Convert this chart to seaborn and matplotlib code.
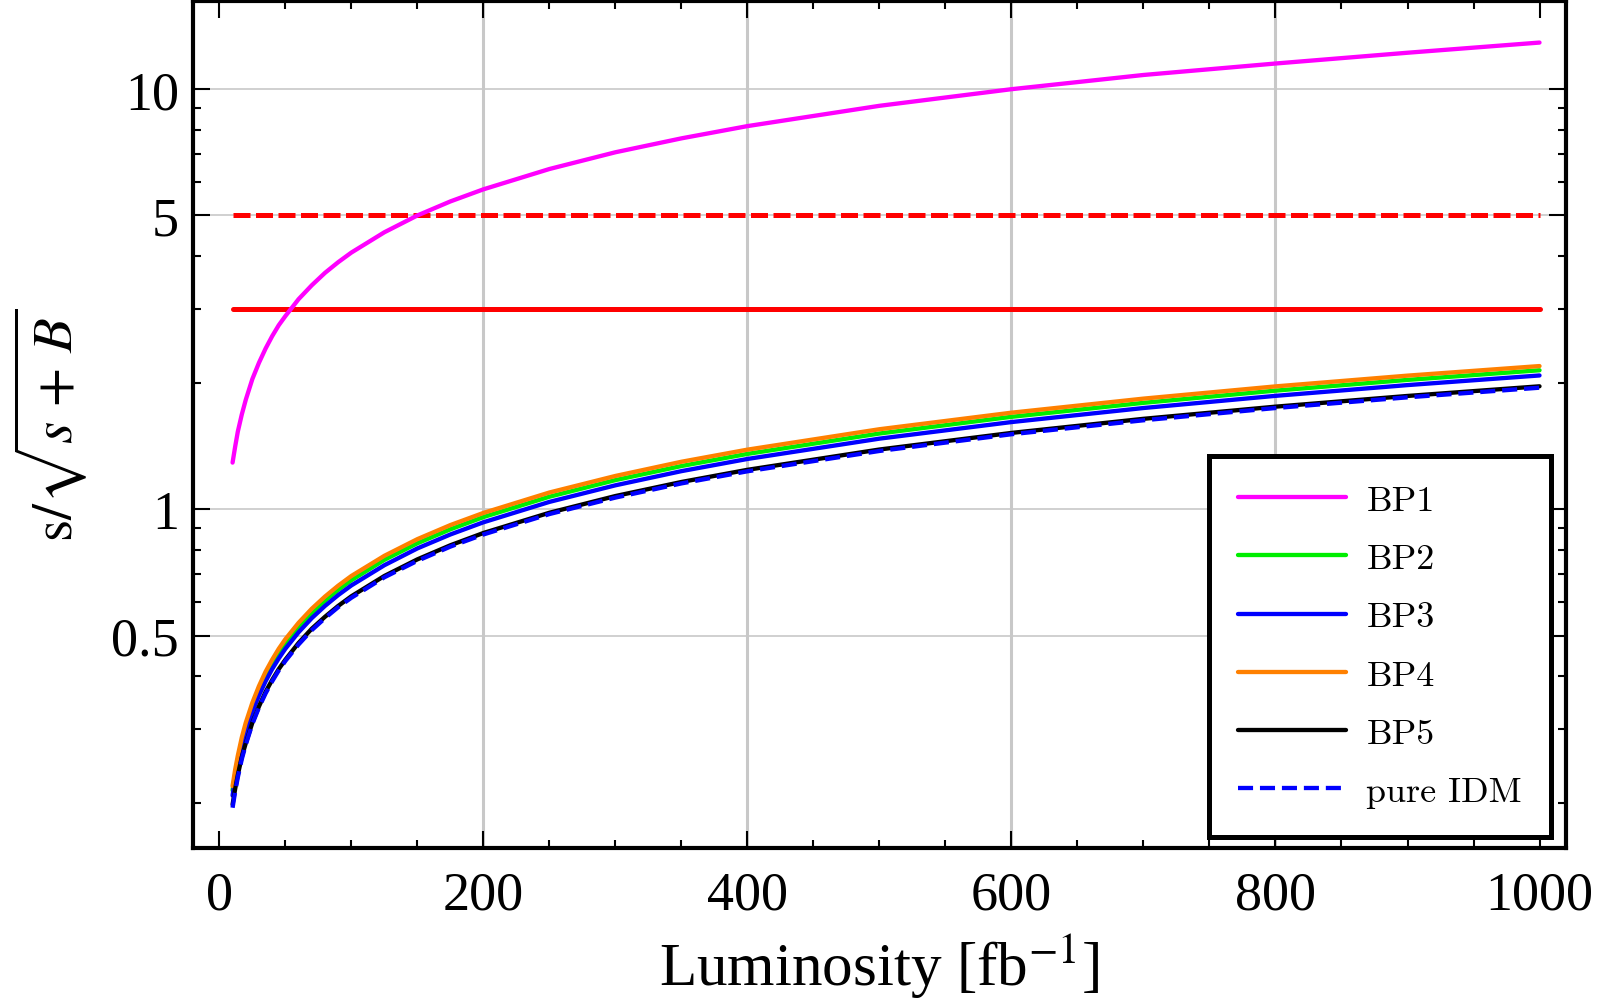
import numpy as np
import pandas as pd
import matplotlib
matplotlib.use('Agg')
import matplotlib.pyplot as plt
import seaborn as sns
from matplotlib.ticker import FixedLocator, NullFormatter, FixedFormatter

lumi = [10, 12, 14, 17, 20, 25, 30, 35, 40, 45, 50, 60, 70, 80, 90, 100,
        125, 150, 175, 200, 250, 300, 350, 400, 500, 600, 700, 800, 900, 1000]

bp1 = [1.29, 1.41, 1.53, 1.68, 1.82, 2.04, 2.23, 2.41, 2.58, 2.74, 2.88,
       3.16, 3.41, 3.65, 3.87, 4.08, 4.56, 5.00, 5.40, 5.77, 6.45, 7.07,
       7.63, 8.16, 9.12, 9.99, 10.8, 11.5, 12.2, 12.9]
bp2 = [0.214, 0.234, 0.253, 0.279, 0.303, 0.338, 0.371, 0.400, 0.428, 0.454,
       0.479, 0.524, 0.566, 0.605, 0.642, 0.677, 0.757, 0.829, 0.895, 0.957,
       1.070, 1.172, 1.266, 1.353, 1.513, 1.658, 1.790, 1.914, 2.030, 2.14]
bp3 = [0.208, 0.228, 0.246, 0.271, 0.294, 0.329, 0.360, 0.389, 0.416, 0.441,
       0.465, 0.509, 0.550, 0.588, 0.624, 0.658, 0.735, 0.806, 0.870, 0.930,
       1.040, 1.139, 1.231, 1.316, 1.471, 1.611, 1.740, 1.860, 1.973, 2.08]
bp4 = [0.219, 0.240, 0.259, 0.286, 0.310, 0.346, 0.379, 0.410, 0.438, 0.465,
       0.490, 0.536, 0.579, 0.619, 0.657, 0.693, 0.774, 0.848, 0.916, 0.979,
       1.095, 1.199, 1.296, 1.385, 1.549, 1.696, 1.832, 1.959, 2.078, 2.19]
bp5 = [0.198, 0.216, 0.233, 0.257, 0.277, 0.310, 0.339, 0.367, 0.392, 0.416,
       0.438, 0.480, 0.519, 0.554, 0.588, 0.620, 0.693, 0.759, 0.820, 0.877,
       0.980, 1.074, 1.160, 1.240, 1.386, 1.518, 1.640, 1.753, 1.859, 1.96]
idm = [0.1945, 0.213, 0.230, 0.254, 0.275, 0.308, 0.337, 0.364, 0.389, 0.413,
       0.435, 0.476, 0.515, 0.550, 0.584, 0.615, 0.688, 0.753, 0.814, 0.870,
       0.973, 1.065, 1.151, 1.230, 1.375, 1.507, 1.627, 1.740, 1.845, 1.945]

# reference significance lines
ref_x = [10, 1000]
three_sigma = [3, 3]
five_sigma = [5, 5]

x_ticks = [0, 200, 400, 600, 800, 1000]
y_ticks = [0.5, 1, 5, 10]
y_ticklabels = ['0.5', '1', '5', '10']

sns.set_theme(style='ticks')
plt.rcParams['font.family'] = ['Liberation Serif', 'DejaVu Serif']
plt.rcParams['mathtext.fontset'] = 'stix'
plt.rcParams['text.color'] = 'black'
plt.rcParams['axes.labelcolor'] = 'black'
plt.rcParams['xtick.color'] = 'black'
plt.rcParams['ytick.color'] = 'black'

fig = plt.figure(figsize=(16, 10.04), dpi=100)
ax = fig.add_axes([0.1206, 0.1544, 0.8581, 0.8436])

lw = 3.1
sns.lineplot(x=ref_x, y=five_sigma, ax=ax, color='#ff0000', lw=3.6,
             linestyle=(0, (3.4, 1.1)))
sns.lineplot(x=ref_x, y=three_sigma, ax=ax, color='#ff0000', lw=3.6)

series = [('BP1', bp1, '#ff00ff', '-'),
          ('BP2', bp2, '#00ee00', '-'),
          ('BP3', bp3, '#0000ff', '-'),
          ('BP4', bp4, '#ff8000', '-'),
          ('BP5', bp5, '#000000', '-'),
          ('pure IDM', idm, '#0000ff', (0, (3.5, 1.6)))]
for name, vals, col, ls in series:
    sns.lineplot(x=lumi, y=vals, ax=ax, color=col, lw=lw, linestyle=ls, label=name)

ax.set_yscale('log')
ax.set_xlim(-20, 1020)
ax.set_ylim(0.156, 16.2)

ax.xaxis.set_major_locator(FixedLocator(x_ticks))
ax.xaxis.set_minor_locator(FixedLocator(np.arange(0, 1001, 50)))
ax.yaxis.set_major_locator(FixedLocator(y_ticks))
ax.yaxis.set_major_formatter(FixedFormatter(y_ticklabels))
ax.yaxis.set_minor_locator(FixedLocator([0.2, 0.3, 0.4, 0.6, 0.7, 0.8, 0.9,
                                         2, 3, 4, 6, 7, 8, 9]))
ax.yaxis.set_minor_formatter(NullFormatter())

ax.tick_params(which='both', direction='in', top=True, right=True,
               width=1.5, color='black', labelsize=39, labelcolor='black')
ax.tick_params(which='major', length=12)
ax.tick_params(axis='x', which='major', pad=16)
ax.tick_params(axis='y', which='major', pad=10)
ax.tick_params(which='minor', length=6)

for v in [200, 400, 600, 800]:
    ax.axvline(v, color='#c8c8c8', lw=2.2, zorder=0)
for v in y_ticks:
    ax.axhline(v, color='#c8c8c8', lw=1.2, zorder=0)

for sp in ax.spines.values():
    sp.set_linewidth(3)
    sp.set_color('black')

ax.set_xlabel(r'Luminosity [fb$^{-1}$]', fontsize=44, labelpad=8)
ax.set_ylabel(r'$\mathrm{s}/\sqrt{s\,+\,B}$', fontsize=41, labelpad=16)

leg = ax.legend(loc='lower right', bbox_to_anchor=(0.989, 0.013),
                borderaxespad=0, frameon=True, fancybox=False,
                prop={'family': 'cmr10', 'size': 26},
                handlelength=3.0, labelspacing=0.72, handletextpad=0.55,
                borderpad=0.8)
leg.get_frame().set_edgecolor('black')
leg.get_frame().set_linewidth(3.6)
leg.get_frame().set_alpha(1)

fig.savefig('out.png', dpi=100)
